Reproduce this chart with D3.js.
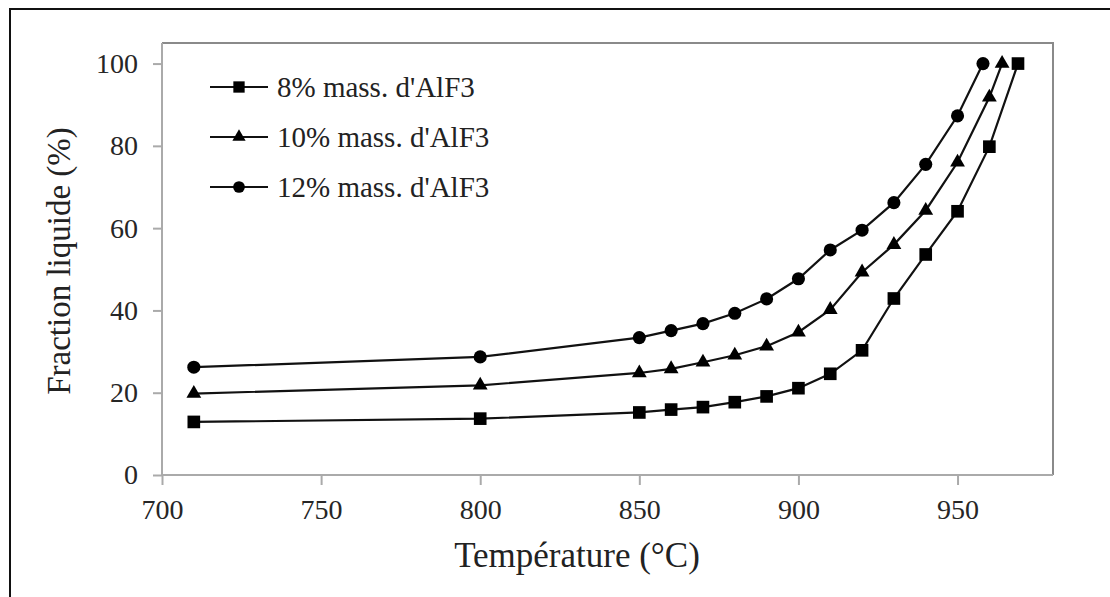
<!DOCTYPE html>
<html>
<head>
<meta charset="utf-8">
<script src="https://cdn.jsdelivr.net/npm/d3@7"></script>
<style>
  html, body { margin: 0; padding: 0; background: #fff; }
  svg { display: block; }
</style>
</head>
<body>
<svg id="chart" width="1110" height="597"></svg>
<script>
// ---- data ----
const seriesNames = ["8% mass. d'AlF3", "10% mass. d'AlF3", "12% mass. d'AlF3"];
const temps8  = [710, 800, 850, 860, 870, 880, 890, 900, 910, 920, 930, 940, 950, 960, 969];
const frac8   = [12.9, 13.7, 15.2, 15.9, 16.5, 17.7, 19.1, 21.1, 24.6, 30.3, 42.9, 53.6, 64.1, 79.8, 100];
const temps10 = [710, 800, 850, 860, 870, 880, 890, 900, 910, 920, 930, 940, 950, 960, 964];
const frac10  = [19.8, 21.8, 24.8, 25.8, 27.4, 29.1, 31.3, 34.7, 40.2, 49.3, 56.0, 64.3, 76.0, 91.8, 100];
const temps12 = [710, 800, 850, 860, 870, 880, 890, 900, 910, 920, 930, 940, 950, 958];
const frac12  = [26.2, 28.7, 33.4, 35.1, 36.8, 39.3, 42.8, 47.7, 54.7, 59.5, 66.2, 75.5, 87.3, 100];
const xTicks = [700, 750, 800, 850, 900, 950];
const yTicks = [0, 20, 40, 60, 80, 100];
const xTitle = "Température (°C)";
const yTitle = "Fraction liquide (%)";

const FONT = "'Liberation Serif', 'Times New Roman', serif";

const series = [
  { name: seriesNames[0], x: temps8,  y: frac8,  symbol: d3.symbolSquare,   size: 160 },
  { name: seriesNames[1], x: temps10, y: frac10, symbol: d3.symbolTriangle, size: 95 },
  { name: seriesNames[2], x: temps12, y: frac12, symbol: d3.symbolCircle,   size: 135 }
];

// ---- layout ----
const svg = d3.select("#chart");
const L = 162, R = 1053, T = 43, B = 475;

const x = d3.scaleLinear().domain([700, 980]).range([L, R]);
const y = d3.scaleLinear().domain([0, 105]).range([B, T]);

// outer frame
svg.append("rect").attr("x", 10).attr("y", 9).attr("width", 1300).attr("height", 800)
  .attr("fill", "none").attr("stroke", "#111").attr("stroke-width", 2);

// plot border top/right
svg.append("path")
  .attr("d", `M${L},${T}H${R}V${B}`)
  .attr("fill", "none").attr("stroke", "#8a8a8a").attr("stroke-width", 2);

// x axis
const xAxis = svg.append("g").attr("transform", `translate(0,${B})`)
  .call(d3.axisBottom(x).tickValues(xTicks).tickSize(10).tickPadding(14).tickFormat(d3.format("d")));
xAxis.select(".domain").attr("stroke", "#aaa").attr("stroke-width", 2).attr("d", `M${L},0H${R}`);
xAxis.selectAll(".tick line").attr("stroke", "#aaa").attr("stroke-width", 2);
xAxis.selectAll(".tick text").style("font-family", FONT).style("font-size", "28px").attr("fill", "#262626");

// y axis
const yAxis = svg.append("g").attr("transform", `translate(${L},0)`)
  .call(d3.axisLeft(y).tickValues(yTicks).tickSize(9).tickPadding(15).tickFormat(d3.format("d")));
yAxis.select(".domain").attr("stroke", "#aaa").attr("stroke-width", 2).attr("d", `M0,${T}V${B}`);
yAxis.selectAll(".tick line").attr("stroke", "#aaa").attr("stroke-width", 2);
yAxis.selectAll(".tick text").style("font-family", FONT).style("font-size", "28px").attr("fill", "#262626");

// titles
svg.append("text").attr("x", 577).attr("y", 567).attr("text-anchor", "middle")
  .style("font-family", FONT).style("font-size", "35px").attr("fill", "#222").text(xTitle);
svg.append("text").attr("transform", `translate(70,261) rotate(-90)`)
  .attr("text-anchor", "middle").style("font-family", FONT).style("font-size", "33px")
  .attr("fill", "#222").text(yTitle);

// lines and markers
const line = d3.line().x(d => x(d[0])).y(d => y(d[1]));
series.forEach(s => {
  const pts = s.x.map((t, i) => [t, s.y[i]]);
  svg.append("path").datum(pts).attr("d", line)
    .attr("fill", "none").attr("stroke", "#111").attr("stroke-width", 2.2);
  svg.append("g").selectAll("path").data(pts).join("path")
    .attr("transform", d => `translate(${x(d[0])},${y(d[1])})`)
    .attr("d", d3.symbol().type(s.symbol).size(s.size))
    .attr("fill", "#000");
});

// legend
const legY = [87, 137, 187];
series.forEach((s, i) => {
  const g = svg.append("g").attr("transform", `translate(0,${legY[i]})`);
  g.append("line").attr("x1", 210).attr("x2", 268).attr("y1", 0).attr("y2", 0)
    .attr("stroke", "#111").attr("stroke-width", 2.2);
  g.append("path").attr("transform", "translate(239,0)")
    .attr("d", d3.symbol().type(s.symbol).size(s.size * 0.8)).attr("fill", "#000");
  g.append("text").attr("x", 277).attr("y", 10)
    .style("font-family", FONT).style("font-size", "29px").attr("fill", "#222").text(s.name);
});
</script>
</body>
</html>
